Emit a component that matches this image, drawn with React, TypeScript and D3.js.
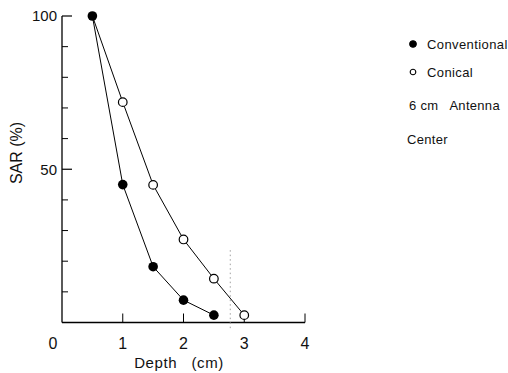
import { scaleLinear, line } from "d3";

const W = 508;
const H = 373;
const margin = { top: 16, right: 203, bottom: 50, left: 62 };

const conventionalDepth = [0.5, 1, 1.5, 2, 2.5];
const conventionalSar = [100, 45, 18.2, 7.3, 2.4];
const conicalDepth = [0.5, 1, 1.5, 2, 2.5, 3];
const conicalSar = [100, 71.9, 44.9, 27.1, 14.3, 2.4];
const xTicks = [0, 1, 2, 3, 4];
const yMajor = [50, 100];
const yMinor = [10, 20, 30, 40, 60, 70, 80, 90];
const legendItems = ["Conventional", "Conical"];
const notes = ["6 cm   Antenna", "Center"];
const markerDepth = 2.77;
const markerTop = 23.6;

const FONT = "'Liberation Sans', Arial, sans-serif";

export default function App() {
  const x = scaleLinear().domain([0, 4]).range([margin.left, W - margin.right]);
  const y = scaleLinear().domain([0, 100]).range([H - margin.bottom - 0.5, margin.top]);

  const conv = conventionalDepth.map((d, i) => [d, conventionalSar[i]] as [number, number]);
  const coni = conicalDepth.map((d, i) => [d, conicalSar[i]] as [number, number]);
  const path = line<[number, number]>().x(d => x(d[0])).y(d => y(d[1]));

  const x0 = x(0);
  const y0 = y(0);

  return (
    <svg width={W} height={H} style={{ position: "absolute", left: 0, top: 0, background: "#fff" }}
      fontFamily={FONT} fill="#111">
      {/* axes */}
      <line x1={x0} x2={x0} y1={y(100)} y2={y0} stroke="#000" strokeWidth={1.3} />
      <line x1={x0} x2={x(4)} y1={y0} y2={y0} stroke="#000" strokeWidth={1.3} />
      {yMajor.map(v => (
        <g key={v}>
          <line x1={x0} x2={x0 + 10} y1={y(v)} y2={y(v)} stroke="#000" strokeWidth={1.2} />
          <text x={x0 - 5} y={y(v)} dy="0.35em" textAnchor="end" fontSize={15}>{v}</text>
        </g>
      ))}
      {yMinor.map(v => (
        <line key={v} x1={x0} x2={x0 + 6} y1={y(v)} y2={y(v)} stroke="#000" strokeWidth={1} />
      ))}
      {xTicks.map(v => (
        <g key={v}>
          {v > 0 && <line x1={x(v)} x2={x(v)} y1={y0} y2={y0 - 9} stroke="#000" strokeWidth={1} />}
          <text x={v === 0 ? x(v) - 9 : x(v)} y={343} dy="0.35em" textAnchor="middle" fontSize={16}>{v}</text>
        </g>
      ))}
      <text x={179} y={363} dy="0.35em" textAnchor="middle" fontSize={15} letterSpacing={0.6}
        style={{ whiteSpace: "pre" }}>{"Depth   (cm)"}</text>
      <text transform={`translate(16, ${153}) rotate(-90)`} textAnchor="middle" dy="0.35em" fontSize={16}>SAR (%)</text>

      {/* dotted marker */}
      <line x1={x(markerDepth)} x2={x(markerDepth)} y1={y(markerTop)} y2={y0 + 8}
        stroke="#888" strokeWidth={0.8} strokeDasharray="1.5 3" />

      {/* series */}
      <path d={path(coni) ?? ""} fill="none" stroke="#000" strokeWidth={1} />
      <path d={path(conv) ?? ""} fill="none" stroke="#000" strokeWidth={1} />
      {coni.slice(1).map(([d, v]) => (
        <circle key={d} cx={x(d)} cy={y(v)} r={4.3} fill="#fff" stroke="#000" strokeWidth={1.2} />
      ))}
      {conv.map(([d, v]) => (
        <circle key={d} cx={x(d)} cy={y(v)} r={4.8} fill="#000" />
      ))}

      {/* legend */}
      {legendItems.map((name, i) => (
        <g key={name} transform={`translate(413, ${44 + i * 28})`}>
          <circle r={i === 0 ? 3.3 : 2.8} fill={i === 0 ? "#000" : "#fff"} stroke="#000" strokeWidth={1.1} />
          <text x={14} dy="0.35em" fontSize={13} letterSpacing={0.4}>{name}</text>
        </g>
      ))}
      {notes.map((t, i) => (
        <text key={t} x={409 - i * 2} y={105 + i * 34} dy="0.35em" fontSize={13} letterSpacing={0.3}
          style={{ whiteSpace: "pre" }}>{t}</text>
      ))}
    </svg>
  );
}
